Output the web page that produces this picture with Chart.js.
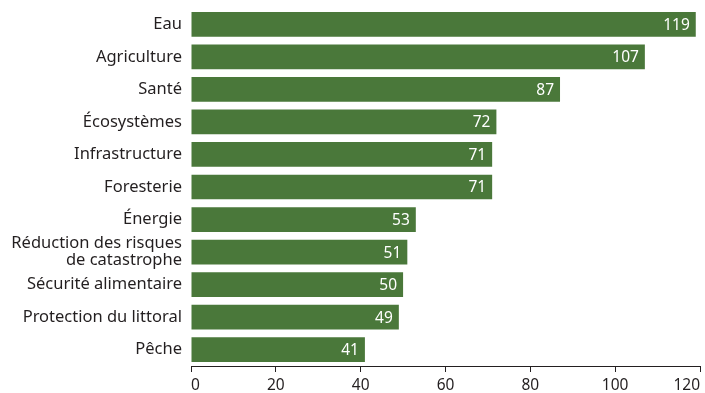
<!DOCTYPE html>
<html>
<head>
<meta charset="utf-8">
<script src="https://cdn.jsdelivr.net/npm/chart.js@4"></script>
<style>
  html, body { margin: 0; padding: 0; background: #fff; }
  #wrap { width: 705px; height: 393px; }
</style>
</head>
<body>
<div id="wrap"><canvas id="chart" width="705" height="393"></canvas></div>
<script>
// categories, top to bottom
const categories = [
  "Eau",
  "Agriculture",
  "Santé",
  "Écosystèmes",
  "Infrastructure",
  "Foresterie",
  "Énergie",
  ["Réduction des risques", "de catastrophe"],
  "Sécurité alimentaire",
  "Protection du littoral",
  "Pêche"
];
const counts = [119, 107, 87, 72, 71, 71, 53, 51, 50, 49, 41];
const xTicks = [0, 20, 40, 60, 80, 100, 120];

const barColor = "#4a783a";
const textColor = "#231f20";
const fontFamily = "'Noto Sans', sans-serif";

// white value labels inside the end of each bar
const valueLabels = {
  id: "valueLabels",
  afterDatasetsDraw(chart) {
    const ctx = chart.ctx;
    const meta = chart.getDatasetMeta(0);
    ctx.save();
    ctx.fillStyle = "#ffffff";
    ctx.font = "15.5px " + fontFamily;
    ctx.textAlign = "right";
    ctx.textBaseline = "middle";
    meta.data.forEach((bar, i) => {
      ctx.fillText(String(counts[i]), bar.x - 6, bar.y + 1);
    });
    ctx.restore();
  }
};

new Chart(document.getElementById("chart"), {
  type: "bar",
  data: {
    labels: categories,
    datasets: [{
      data: counts,
      backgroundColor: barColor,
      borderWidth: 0,
      barPercentage: 0.76,
      categoryPercentage: 1
    }]
  },
  options: {
    indexAxis: "y",
    responsive: false,
    animation: false,
    layout: { padding: { left: 0, right: 5, top: 8, bottom: 0 } },
    plugins: {
      legend: { display: false },
      tooltip: { enabled: false }
    },
    scales: {
      x: {
        min: 0,
        max: 120,
        afterBuildTicks: (scale) => {
          scale.ticks = xTicks.map((v) => ({ value: v }));
        },
        afterFit: (scale) => {
          scale.height = 27;
          scale.paddingLeft = 0;
          scale.paddingRight = 0;
        },
        grid: {
          drawOnChartArea: false,
          drawTicks: true,
          tickLength: 6,
          color: textColor,
          lineWidth: 1
        },
        border: { display: true, color: textColor, width: 1 },
        ticks: {
          color: textColor,
          padding: 4,
          maxRotation: 0,
          align: "inner",
          font: { family: fontFamily, size: 15.5 }
        }
      },
      y: {
        afterFit: (scale) => {
          scale.width = 191;
          scale.paddingTop = 0;
          scale.paddingBottom = 0;
        },
        grid: { display: false, drawTicks: false, tickLength: 0 },
        border: { display: false },
        ticks: {
          autoSkip: false,
          color: textColor,
          padding: 9,
          font: { family: fontFamily, size: 16.5, lineHeight: 1.02 }
        }
      }
    }
  },
  plugins: [valueLabels]
});
</script>
</body>
</html>
